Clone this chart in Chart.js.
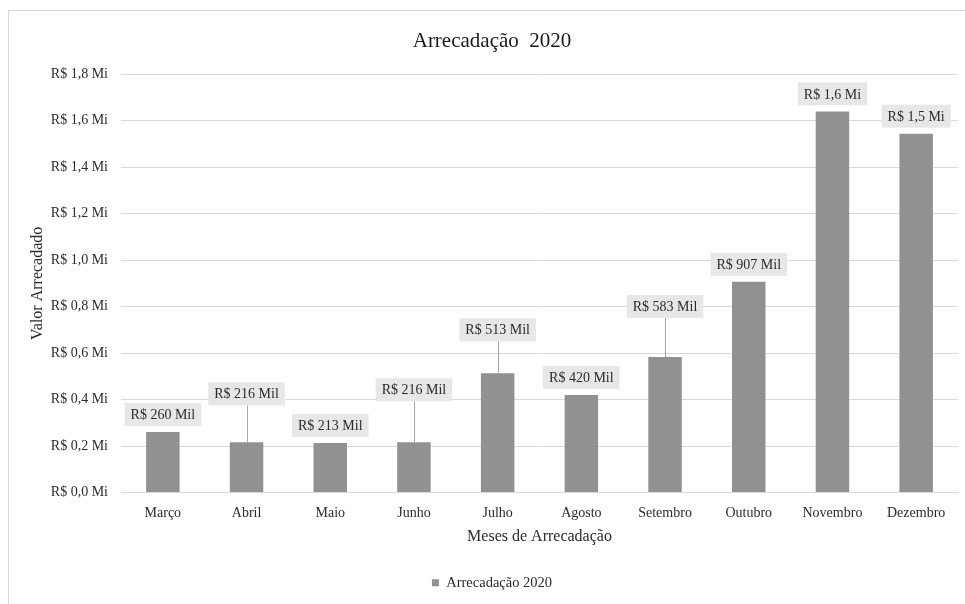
<!DOCTYPE html>
<html>
<head>
<meta charset="utf-8">
<script src="https://cdn.jsdelivr.net/npm/chart.js@4"></script>
<style>
  html, body { margin: 0; padding: 0; background: #fff; }
  canvas { display: block; }
</style>
</head>
<body>
<canvas id="chart" width="965" height="604"></canvas>
<script>
const meses = ['Março', 'Abril', 'Maio', 'Junho', 'Julho', 'Agosto', 'Setembro', 'Outubro', 'Novembro', 'Dezembro'];
const arrecadacao = [260000, 216000, 213000, 216000, 513000, 420000, 583000, 907000, 1640000, 1544000];
const yTicks = [0, 200000, 400000, 600000, 800000, 1000000, 1200000, 1400000, 1600000, 1800000];

// extra lift (px) for labels that sit higher with a leader line
const labelLift = [0, 31, 0, 35, 26, 0, 33, 0, 0, 0];

const serif = 'Liberation Serif, Times New Roman, serif';

function fmtMi(v) {
  return 'R$ ' + (v / 1e6).toFixed(1).replace('.', ',') + ' Mi';
}
function fmtLabel(v) {
  if (v < 1e6) return 'R$ ' + Math.round(v / 1000) + ' Mil';
  return fmtMi(v);
}

const frame = {
  id: 'frame',
  beforeDraw(chart) {
    const c = chart.ctx;
    c.save();
    c.fillStyle = '#fff';
    c.fillRect(0, 0, chart.width, chart.height);
    c.strokeStyle = '#d9d9d9';
    c.lineWidth = 1;
    c.strokeRect(8.5, 10.5, 2000, 2000);
    c.restore();
  }
};

const dataLabels = {
  id: 'dataLabels',
  afterDatasetsDraw(chart) {
    const c = chart.ctx;
    const meta = chart.getDatasetMeta(0);
    c.save();
    c.font = '14px ' + serif;
    c.textAlign = 'center';
    c.textBaseline = 'middle';
    meta.data.forEach((bar, i) => {
      const txt = fmtLabel(arrecadacao[i]);
      const w = c.measureText(txt).width + 12;
      const h = 23;
      const bottom = bar.y - 6 - labelLift[i];
      if (labelLift[i] > 0) {
        c.strokeStyle = '#a6a6a6';
        c.lineWidth = 1;
        c.beginPath();
        c.moveTo(Math.round(bar.x) + 0.5, bottom);
        c.lineTo(Math.round(bar.x) + 0.5, bar.y);
        c.stroke();
      }
      c.fillStyle = '#e7e7e7';
      c.fillRect(bar.x - w / 2, bottom - h, w, h);
      c.fillStyle = '#2b2b2b';
      c.fillText(txt, bar.x, bottom - h / 2 + 1);
    });
    c.restore();
  }
};

new Chart(document.getElementById('chart'), {
  type: 'bar',
  data: {
    labels: meses,
    datasets: [{
      label: 'Arrecadação 2020',
      data: arrecadacao,
      backgroundColor: '#919191',
      barPercentage: 0.4,
      categoryPercentage: 1.0
    }]
  },
  options: {
    responsive: false,
    animation: false,
    layout: { padding: { left: 26, right: 7, top: 0, bottom: 4 } },
    plugins: {
      tooltip: { enabled: false },
      title: {
        display: true,
        text: 'Arrecadação  2020',
        color: '#1a1a1a',
        font: { family: serif, size: 21, weight: 'normal' },
        padding: { top: 29, bottom: 20 }
      },
      legend: {
        position: 'bottom',
        labels: {
          color: '#2b2b2b',
          font: { family: serif, size: 14.5 },
          boxWidth: 7,
          boxHeight: 7
        }
      }
    },
    scales: {
      x: {
        grid: { display: false, drawTicks: false },
        border: { color: '#d9d9d9', width: 1 },
        ticks: { color: '#2b2b2b', font: { family: serif, size: 14 }, padding: 12, maxRotation: 0 },
        title: {
          display: true,
          text: 'Meses de Arrecadação',
          color: '#2b2b2b',
          font: { family: serif, size: 16 },
          padding: { top: 4, bottom: 19 }
        },
        afterFit(scale) { scale.height = 73; }
      },
      y: {
        min: 0,
        max: 1800000,
        afterBuildTicks(scale) { scale.ticks = yTicks.map(v => ({ value: v })); },
        grid: { color: '#d9d9d9', drawTicks: false },
        border: { display: false },
        ticks: {
          color: '#2b2b2b',
          font: { family: serif, size: 14 },
          padding: 13,
          callback: v => fmtMi(v)
        },
        title: {
          display: true,
          text: 'Valor Arrecadado',
          color: '#2b2b2b',
          font: { family: serif, size: 16 },
          padding: { top: 2, bottom: 0 }
        },
        afterFit(scale) { scale.width = 95; }
      }
    }
  },
  plugins: [frame, dataLabels]
});
</script>
</body>
</html>
